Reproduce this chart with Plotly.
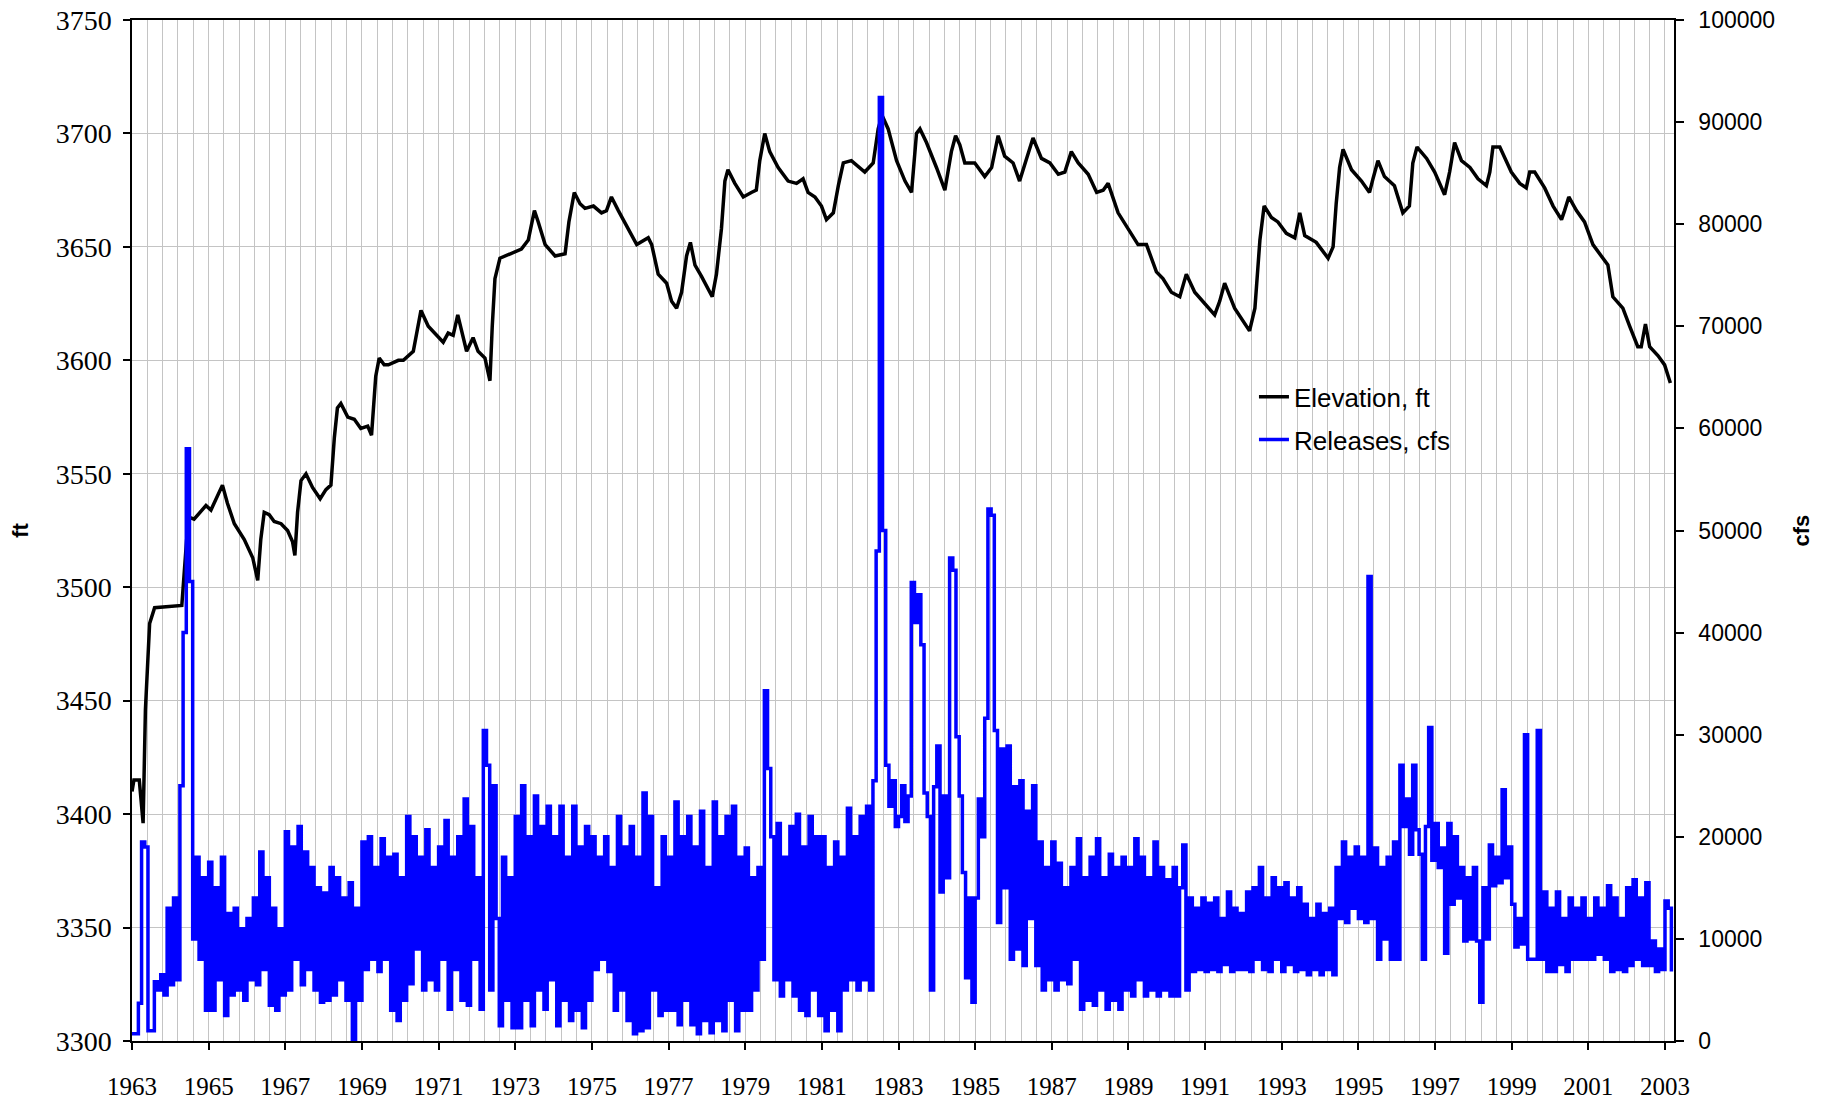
import plotly.graph_objects as go

# ---------------- DATA ----------------
elev_years = [1963.00, 1963.05, 1963.19, 1963.23, 1963.29, 1963.35, 1963.41, 1963.46, 1963.59, 1964.24,
              1964.30, 1964.40, 1964.47, 1964.62, 1964.93, 1965.06, 1965.19, 1965.36, 1965.49, 1965.67,
              1965.93, 1966.15, 1966.28, 1966.36, 1966.45, 1966.58, 1966.71, 1966.89, 1967.06, 1967.19,
              1967.25, 1967.32, 1967.41, 1967.54, 1967.71, 1967.91, 1968.06, 1968.19, 1968.28, 1968.36,
              1968.45, 1968.63, 1968.80, 1968.97, 1969.15, 1969.25, 1969.36, 1969.45, 1969.58, 1969.69,
              1969.95, 1970.08, 1970.34, 1970.47, 1970.54, 1970.73, 1970.91, 1971.12, 1971.25, 1971.38,
              1971.50, 1971.62, 1971.73, 1971.90, 1972.03, 1972.21, 1972.34, 1972.40, 1972.47, 1972.60,
              1972.90, 1973.16, 1973.34, 1973.50, 1973.60, 1973.78, 1974.04, 1974.30, 1974.40, 1974.54,
              1974.69, 1974.82, 1975.04, 1975.25, 1975.38, 1975.51, 1975.69, 1975.95, 1976.17, 1976.47,
              1976.56, 1976.73, 1976.95, 1977.08, 1977.21, 1977.34, 1977.47, 1977.57, 1977.69, 1977.86,
              1978.03, 1978.14, 1978.25, 1978.38, 1978.47, 1978.55, 1978.73, 1978.95, 1979.16, 1979.29,
              1979.38, 1979.51, 1979.64, 1979.86, 1980.12, 1980.34, 1980.51, 1980.64, 1980.82, 1980.99,
              1981.12, 1981.30, 1981.43, 1981.56, 1981.77, 1982.12, 1982.34, 1982.47, 1982.57, 1982.73,
              1982.95, 1983.17, 1983.34, 1983.47, 1983.56, 1983.73, 1983.99, 1984.21, 1984.38, 1984.49,
              1984.60, 1984.73, 1984.99, 1985.25, 1985.43, 1985.60, 1985.77, 1985.99, 1986.16, 1986.34,
              1986.51, 1986.73, 1986.95, 1987.17, 1987.34, 1987.51, 1987.69, 1987.95, 1988.17, 1988.34,
              1988.47, 1988.73, 1988.99, 1989.25, 1989.47, 1989.56, 1989.73, 1989.90, 1990.12, 1990.34,
              1990.51, 1990.73, 1990.99, 1991.25, 1991.38, 1991.51, 1991.77, 1991.99, 1992.16, 1992.30,
              1992.43, 1992.54, 1992.73, 1992.90, 1993.12, 1993.34, 1993.47, 1993.60, 1993.90, 1994.21,
              1994.34, 1994.42, 1994.51, 1994.60, 1994.82, 1995.08, 1995.29, 1995.38, 1995.51, 1995.68,
              1995.94, 1996.16, 1996.33, 1996.42, 1996.53, 1996.78, 1996.99, 1997.25, 1997.38, 1997.51,
              1997.69, 1997.91, 1998.12, 1998.34, 1998.43, 1998.51, 1998.69, 1998.99, 1999.21, 1999.38,
              1999.47, 1999.60, 1999.86, 2000.08, 2000.30, 2000.38, 2000.49, 2000.69, 2000.90, 2001.12,
              2001.43, 2001.51, 2001.64, 2001.90, 2002.08, 2002.29, 2002.38, 2002.49, 2002.60, 2002.82,
              2002.99, 2003.14]

elev_ft = [3410, 3415, 3415, 3407, 3396, 3446, 3468, 3484, 3491, 3492,
           3492, 3515, 3531, 3530, 3536, 3534, 3539, 3545, 3537, 3528,
           3521, 3513, 3503, 3521, 3533, 3532, 3529, 3528, 3525, 3520,
           3514, 3533, 3547, 3550, 3544, 3539, 3543, 3545, 3566, 3579,
           3581, 3575, 3574, 3570, 3571, 3567, 3593, 3601, 3598, 3598,
           3600, 3600, 3604, 3615, 3622, 3615, 3612, 3608, 3612, 3611,
           3620, 3612, 3604, 3610, 3604, 3601, 3591, 3615, 3636, 3645,
           3647, 3649, 3653, 3666, 3661, 3651, 3646, 3647, 3661, 3674,
           3669, 3667, 3668, 3665, 3666, 3672, 3666, 3658, 3651, 3654,
           3651, 3638, 3634, 3626, 3623, 3630, 3646, 3652, 3642, 3637,
           3631, 3628, 3638, 3658, 3679, 3684, 3678, 3672, 3674, 3675,
           3688, 3700, 3692, 3685, 3679, 3678, 3680, 3674, 3672, 3668,
           3662, 3665, 3677, 3687, 3688, 3683, 3687, 3702, 3708, 3702,
           3688, 3679, 3674, 3700, 3702, 3696, 3685, 3675, 3692, 3699,
           3695, 3687, 3687, 3681, 3685, 3699, 3690, 3687, 3679, 3689,
           3698, 3689, 3687, 3682, 3683, 3692, 3687, 3682, 3674, 3675,
           3678, 3665, 3658, 3651, 3651, 3647, 3639, 3636, 3630, 3628,
           3638, 3630, 3625, 3620, 3626, 3634, 3623, 3617, 3613, 3623,
           3653, 3668, 3663, 3661, 3656, 3654, 3665, 3655, 3652, 3645,
           3650, 3669, 3685, 3693, 3684, 3679, 3674, 3680, 3688, 3681,
           3677, 3665, 3668, 3687, 3694, 3689, 3683, 3673, 3683, 3696,
           3688, 3685, 3680, 3677, 3683, 3694, 3694, 3683, 3678, 3676,
           3683, 3683, 3676, 3668, 3662, 3666, 3672, 3666, 3661, 3651,
           3644, 3642, 3628, 3623, 3615, 3606, 3606, 3616, 3606, 3602,
           3598, 3590]

# Monthly releases, thousand cfs, Jan 1963 .. Mar 2003 (12 values per year)
release_first_year = 1963
releases_kcfs = [
    0.7, 0.7, 3.7, 19.5, 19.0, 1.0, 1.0, 5.8, 5.0, 6.5, 4.5, 13.0,        # 1963
    5.5, 14.0, 6.0, 25.0, 40.0, 58.0, 45.0, 10.0, 18.0, 8.0, 16.0, 3.0,   # 1964
    17.5, 3.0, 15.0, 6.0, 18.0, 2.5, 12.5, 4.5, 13.0, 5.0, 11.0, 4.0,     # 1965
    12.0, 6.0, 14.0, 5.5, 18.5, 7.0, 16.0, 3.5, 13.0, 3.0, 11.0, 4.5,     # 1966
    20.5, 5.0, 19.0, 8.0, 21.0, 5.5, 18.5, 7.0, 17.0, 5.0, 15.0, 3.8,     # 1967
    14.5, 4.0, 17.0, 4.5, 16.0, 6.0, 14.0, 4.0, 15.5, 0.0, 13.0, 4.0,     # 1968
    19.5, 7.0, 20.0, 8.0, 17.0, 6.8, 19.8, 8.0, 18.0, 3.0, 18.3, 2.0,     # 1969
    16.0, 4.0, 22.0, 5.6, 20.0, 9.0, 18.0, 5.0, 20.7, 6.0, 17.0, 5.0,     # 1970
    19.0, 8.0, 21.6, 3.1, 18.0, 7.0, 20.0, 4.0, 23.7, 3.5, 21.0, 8.0,     # 1971
    16.0, 3.1, 30.4, 27.0, 5.0, 25.0, 12.0, 1.5, 18.0, 4.0, 16.0, 1.3,    # 1972
    22.0, 1.3, 25.0, 4.0, 20.0, 1.5, 24.0, 5.0, 21.0, 3.1, 23.0, 6.0,     # 1973
    20.0, 1.5, 23.0, 4.0, 18.0, 2.0, 23.0, 3.0, 19.0, 1.3, 21.0, 4.0,     # 1974
    20.0, 7.0, 18.0, 8.0, 20.0, 6.8, 17.0, 3.0, 22.0, 5.0, 19.0, 2.0,     # 1975
    21.0, 0.7, 18.0, 1.0, 24.3, 1.3, 22.0, 5.0, 15.0, 2.5, 20.0, 3.0,     # 1976
    18.0, 3.0, 23.4, 1.6, 20.0, 4.0, 22.0, 1.6, 19.0, 0.7, 22.5, 2.0,     # 1977
    17.0, 0.8, 23.4, 2.0, 20.0, 1.0, 22.0, 4.0, 23.0, 1.0, 18.0, 3.0,     # 1978
    18.9, 3.0, 16.0, 5.0, 17.0, 8.0, 34.3, 26.7, 20.0, 6.0, 21.3, 4.4,    # 1979
    18.0, 6.0, 21.0, 4.4, 22.2, 3.0, 19.0, 2.5, 22.0, 5.0, 20.0, 2.5,     # 1980
    20.0, 1.0, 17.0, 3.0, 19.5, 1.0, 18.0, 5.0, 22.8, 6.0, 20.0, 5.0,     # 1981
    22.0, 6.0, 23.0, 5.0, 25.5, 48.0, 92.4, 50.0, 27.0, 23.0, 25.5, 21.0, # 1982
    22.0, 25.0, 21.5, 24.0, 44.9, 41.0, 43.7, 38.8, 24.3, 22.0, 5.0, 24.9,  # 1983
    28.9, 14.6, 24.0, 16.0, 47.3, 46.1, 29.8, 24.0, 16.5, 6.2, 14.0, 3.8,   # 1984
    14.0, 23.7, 20.0, 31.6, 52.1, 51.5, 30.4, 11.6, 28.6, 15.0, 28.9, 8.0,  # 1985
    24.9, 9.0, 25.5, 7.4, 22.5, 12.0, 25.0, 7.4, 19.5, 5.0, 17.0, 6.0,    # 1986
    19.5, 5.0, 17.4, 6.0, 15.0, 5.6, 17.0, 8.0, 19.8, 3.1, 16.0, 4.0,     # 1987
    18.0, 3.5, 19.8, 5.0, 16.0, 3.1, 18.3, 4.0, 17.0, 3.1, 18.0, 5.0,     # 1988
    17.0, 4.4, 19.8, 6.0, 18.0, 4.4, 16.0, 5.0, 19.5, 4.4, 17.0, 5.0,     # 1989
    15.8, 4.4, 17.0, 4.4, 15.0, 19.2, 5.0, 14.0, 6.8, 13.0, 7.0, 14.0,    # 1990
    6.8, 13.5, 7.0, 14.0, 6.8, 12.0, 7.5, 14.6, 6.8, 13.0, 7.0, 12.5,     # 1991
    7.0, 14.6, 6.8, 15.0, 8.0, 17.0, 7.0, 14.0, 6.8, 16.0, 8.0, 15.0,     # 1992
    6.8, 15.5, 7.5, 14.0, 6.8, 15.0, 7.0, 13.4, 6.5, 12.0, 7.0, 13.4,     # 1993
    6.5, 12.5, 7.0, 13.0, 6.5, 17.0, 12.0, 19.5, 11.6, 18.0, 13.0, 19.0,  # 1994
    12.0, 18.0, 11.6, 45.5, 12.0, 18.9, 8.0, 17.0, 10.0, 18.0, 8.0, 19.5, # 1995
    8.0, 27.0, 21.0, 23.7, 18.3, 27.0, 20.7, 18.3, 8.0, 21.0, 30.7, 17.7, # 1996
    21.3, 17.0, 18.9, 8.6, 21.3, 13.4, 20.0, 14.0, 17.0, 9.8, 16.0, 10.0, # 1997
    17.0, 9.8, 3.8, 15.0, 10.0, 19.2, 15.2, 18.0, 15.5, 24.6, 16.0, 19.0, # 1998
    13.4, 9.2, 12.0, 9.5, 30.0, 8.0, 8.0, 8.0, 30.4, 8.0, 14.6, 6.8,      # 1999
    13.0, 6.8, 14.6, 7.5, 12.0, 6.8, 14.0, 8.0, 13.0, 8.0, 14.0, 8.0,     # 2000
    12.0, 8.0, 14.0, 8.5, 13.0, 8.0, 15.2, 6.8, 14.0, 7.0, 12.0, 6.8,     # 2001
    15.0, 7.4, 15.8, 8.0, 14.0, 7.4, 15.5, 7.4, 9.8, 6.8, 9.0, 7.0,       # 2002
    13.7, 13.0, 6.8,                                                      # 2003
]

x_tick_years = list(range(1963, 2004, 2))
x_tick_labels = [str(y) for y in x_tick_years]

# ---------------- FIGURE ----------------
release_years = [release_first_year + i / 12 for i in range(len(releases_kcfs))]
releases_cfs = [v * 1000 for v in releases_kcfs]

fig = go.Figure()
fig.add_trace(go.Scatter(x=elev_years, y=elev_ft, mode="lines", name="Elevation, ft",
                         line=dict(color="black", width=3.5), yaxis="y", legendgroup="a"))
fig.add_trace(go.Scatter(x=release_years, y=releases_cfs, mode="lines", name="Releases, cfs",
                         line=dict(color="#0000FF", width=3.5, shape="hv"), yaxis="y2", legendgroup="b"))

grid_col = "#c4c4c4"
fig.update_layout(
    width=1828, height=1103,
    margin=dict(l=132, r=154, t=20, b=62, autoexpand=False),
    paper_bgcolor="white", plot_bgcolor="white",
    showlegend=True,
    legend=dict(x=0.7276, y=0.654, xanchor="left", yanchor="top",
                bgcolor="rgba(0,0,0,0)", borderwidth=0,
                font=dict(family="Liberation Sans, Arial, sans-serif", size=26, color="black"),
                tracegroupgap=6, traceorder="grouped"),
    xaxis=dict(range=[1963, 2003.235], tickmode="array", tickvals=x_tick_years, ticktext=x_tick_labels,
               showgrid=True, gridcolor=grid_col, gridwidth=1,
               minor=dict(dtick=0.4, tick0=1963, showgrid=True, gridcolor=grid_col, gridwidth=1, ticks=""),
               ticks="outside", ticklen=7, tickwidth=1.5, tickcolor="black",
               showline=True, linecolor="black", linewidth=1.5, mirror=True,
               zeroline=False, ticklabelstandoff=15, automargin=False, ticklabeloverflow="allow",
               tickfont=dict(family="Liberation Serif, Times New Roman, serif", size=25, color="black")),
    yaxis=dict(range=[3300, 3750], dtick=50, tick0=3300,
               showgrid=True, gridcolor=grid_col, gridwidth=1,
               ticks="outside", ticklen=7, tickwidth=1.5, tickcolor="black",
               showline=True, linecolor="black", linewidth=1.5, mirror=True,
               zeroline=False, ticklabelstandoff=6, automargin=False, ticklabeloverflow="allow",
               tickfont=dict(family="Liberation Serif, Times New Roman, serif", size=28, color="black")),
    yaxis2=dict(range=[0, 100000], dtick=10000, tick0=0, overlaying="y", side="right",
                showgrid=False, tickformat="d",
                ticks="outside", ticklen=8, tickwidth=1.5, tickcolor="black",
                showline=True, linecolor="black", linewidth=1.5,
                zeroline=False, ticklabelstandoff=10, automargin=False, ticklabeloverflow="allow",
                tickfont=dict(family="Liberation Sans, Arial, sans-serif", size=23, color="black")),
    shapes=[dict(type="rect", xref="paper", yref="paper",
                 x0=0.655, x1=0.9163, y0=0.569, y1=0.656,
                 fillcolor="white", line=dict(width=0), layer="between")],
    annotations=[
        dict(text="<b>ft</b>", xref="paper", yref="paper", x=-0.0724, y=0.5, xanchor="center",
             yanchor="middle", textangle=-90, showarrow=False,
             font=dict(family="Liberation Sans, Arial, sans-serif", size=22, color="black")),
        dict(text="<b>cfs</b>", xref="paper", yref="paper", x=1.0824, y=0.5, xanchor="center",
             yanchor="middle", textangle=-90, showarrow=False,
             font=dict(family="Liberation Sans, Arial, sans-serif", size=22, color="black")),
    ],
)

# remove the browser's default 8px page margin so the figure fills the window exactly
fig.write_html("out.html", config={"displayModeBar": False},
               post_script="document.body.style.margin='0px';")
